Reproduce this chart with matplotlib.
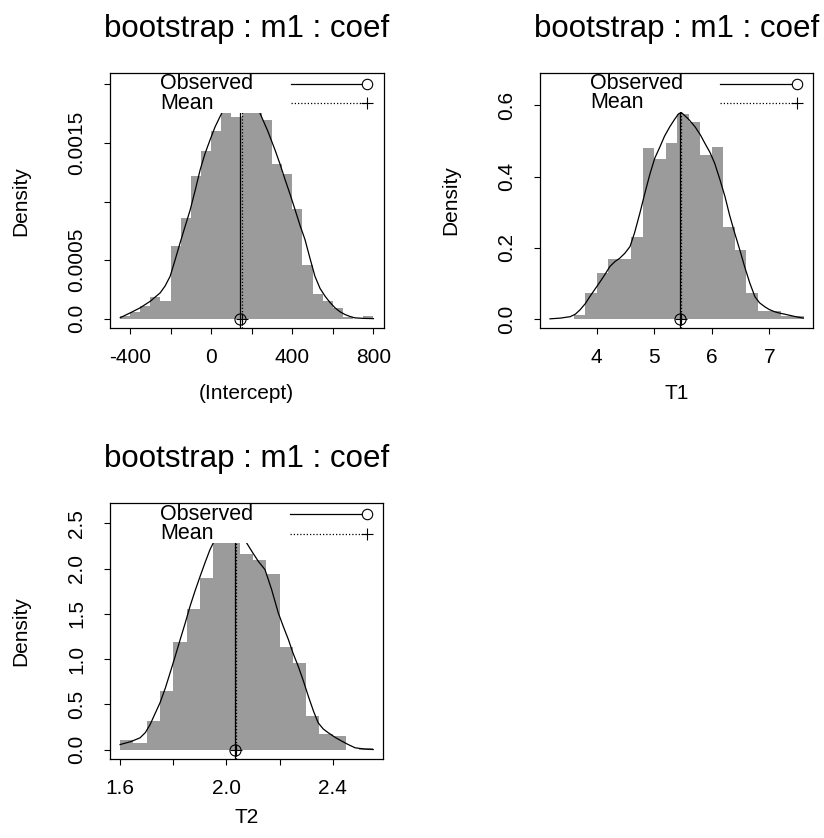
import matplotlib
matplotlib.use("Agg")
import matplotlib.pyplot as plt
from matplotlib.patches import Rectangle
import numpy as np

plt.rcParams['font.family'] = ['Liberation Sans', 'DejaVu Sans']

# ---------------- data ----------------
title = "bootstrap : m1 : coef"

# Panel 1: (Intercept)
p1_edges = [-450, -400, -350, -300, -250, -200, -150, -100, -50, 0, 50, 100, 150,
            200, 250, 300, 350, 400, 450, 500, 550, 600, 650, 700, 750, 800]
p1_heights = [0.00002, 0.000062, 0.000108, 0.000187, 0.000153, 0.000619, 0.000857,
              0.001215, 0.001436, 0.001604, 0.00188, 0.00172, 0.00201, 0.00197,
              0.0017, 0.001323, 0.001238, 0.00094, 0.000457, 0.000216, 0.000153,
              0.000094, 0.000017, 0.0, 0.000023]
p1_curve_x = [-448, -400, -350, -300, -251, -227, -202, -178, -153, -128, -103, -78,
              -54, -30, -5, 20, 44, 100, 150, 200, 241, 280, 315, 340, 365, 390, 414,
              438, 463, 487, 512, 537, 562, 586, 611, 636, 660, 685, 709, 750, 800]
p1_curve_y = [0.00001, 0.00005, 0.000094, 0.00015, 0.000222, 0.00028, 0.000363,
              0.0005, 0.000648, 0.00079, 0.000931, 0.0011, 0.001272, 0.00141,
              0.001528, 0.00164, 0.001726, 0.00192, 0.00198, 0.00192, 0.001755,
              0.0016, 0.001442, 0.00132, 0.001187, 0.00106, 0.000931, 0.0008,
              0.000676, 0.00052, 0.000363, 0.00026, 0.000193, 0.00014, 0.000094,
              0.00006, 0.000037, 0.00002, 0.0000085, 0.000004, 0.000002]
p1_observed = 144.0
p1_mean = 152.0
p1_xticks = [-400, -200, 0, 200, 400, 600, 800]
p1_xticklabels = ["-400", "", "0", "", "400", "", "800"]
p1_yticks = [0.0, 0.0005, 0.0010, 0.0015, 0.0020]
p1_yticklabels = ["0.0", "0.0005", "", "0.0015", ""]
p1_xlabel = "(Intercept)"

# Panel 2: T1
p2_edges = [3.6, 3.8, 4.0, 4.2, 4.4, 4.6, 4.8, 5.0, 5.2, 5.4, 5.6, 5.8, 6.0, 6.2,
            6.4, 6.6, 6.8, 7.0, 7.2, 7.4, 7.6]
p2_heights = [0.012, 0.073, 0.129, 0.168, 0.168, 0.230, 0.480, 0.450, 0.496, 0.576,
              0.554, 0.461, 0.484, 0.260, 0.194, 0.073, 0.023, 0.023, 0.009, 0.009]
p2_curve_x = [3.19, 3.37, 3.54, 3.63, 3.71, 3.80, 3.88, 3.97, 4.06, 4.15, 4.23, 4.32,
              4.40, 4.49, 4.58, 4.66, 4.75, 4.84, 4.93, 5.01, 5.10, 5.18, 5.27, 5.35,
              5.42, 5.47, 5.50, 5.60, 5.71, 5.80, 5.88, 5.97, 6.05, 6.14, 6.23, 6.31,
              6.40, 6.49, 6.57, 6.66, 6.75, 6.83, 6.92, 7.00, 7.09, 7.18, 7.27, 7.43,
              7.59]
p2_curve_y = [0.001, 0.003, 0.007, 0.014, 0.026, 0.043, 0.063, 0.084, 0.105, 0.127,
              0.148, 0.162, 0.171, 0.185, 0.204, 0.243, 0.297, 0.355, 0.410, 0.452,
              0.484, 0.514, 0.540, 0.560, 0.576, 0.580, 0.576, 0.561, 0.540, 0.518,
              0.494, 0.468, 0.438, 0.393, 0.344, 0.292, 0.241, 0.193, 0.148, 0.102,
              0.063, 0.046, 0.035, 0.027, 0.021, 0.017, 0.014, 0.008, 0.003]
p2_observed = 5.45
p2_mean = 5.46
p2_xticks = [4, 5, 6, 7]
p2_xticklabels = ["4", "5", "6", "7"]
p2_yticks = [0.0, 0.2, 0.4, 0.6]
p2_yticklabels = ["0.0", "0.2", "0.4", "0.6"]
p2_xlabel = "T1"

# Panel 3: T2
p3_edges = [1.60, 1.65, 1.70, 1.75, 1.80, 1.85, 1.90, 1.95, 2.00, 2.05, 2.10, 2.15,
            2.20, 2.25, 2.30, 2.35, 2.40, 2.45, 2.50, 2.55]
p3_heights = [0.106, 0.077, 0.316, 0.654, 1.191, 1.559, 1.897, 2.55, 2.62, 2.16,
              2.099, 1.941, 1.136, 0.960, 0.378, 0.169, 0.150, 0.0, 0.02]
p3_curve_x = [1.60, 1.64, 1.675, 1.695, 1.713, 1.73, 1.75, 1.77, 1.788, 1.807, 1.826,
              1.845, 1.863, 1.882, 1.901, 1.92, 1.938, 1.97, 2.0, 2.03, 2.076, 2.10,
              2.12, 2.145, 2.17, 2.195, 2.214, 2.233, 2.25, 2.27, 2.29, 2.308, 2.327,
              2.345, 2.364, 2.383, 2.41, 2.434, 2.46, 2.484, 2.52, 2.552]
p3_curve_y = [0.058, 0.09, 0.132, 0.19, 0.279, 0.39, 0.518, 0.68, 0.849, 1.03, 1.217,
              1.40, 1.584, 1.755, 1.915, 2.07, 2.209, 2.40, 2.52, 2.50, 2.283, 2.17,
              2.080, 1.989, 1.768, 1.511, 1.36, 1.217, 1.07, 0.922, 0.755, 0.591,
              0.43, 0.298, 0.23, 0.188, 0.135, 0.095, 0.055, 0.022, 0.008, 0.003]
p3_observed = 2.034
p3_mean = 2.036
p3_xticks = [1.6, 1.8, 2.0, 2.2, 2.4]
p3_xticklabels = ["1.6", "", "2.0", "", "2.4"]
p3_yticks = [0.0, 0.5, 1.0, 1.5, 2.0, 2.5]
p3_yticklabels = ["0.0", "0.5", "1.0", "1.5", "2.0", "2.5"]
p3_xlabel = "T2"

legend_labels = ["Observed", "Mean"]

# ---------------- figure ----------------
W, H = 824, 838
fig = plt.figure(figsize=(W / 100, H / 100), dpi=100)

BAR = "#9b9b9b"
FS = 15
DOT = (0, (1.0, 1.6))


def px_rect(x0, y0, x1, y1):
    return [x0 / W, 1 - y1 / H, (x1 - x0) / W, (y1 - y0) / H]


def panel(rect, edges, heights, cx, cy, obs, mean, xlim, ylim,
          xticks, xtl, yticks, ytl, xlabel, xlab_y, ylab_x):
    ax = fig.add_axes(px_rect(*rect))
    edges = np.asarray(edges, dtype=float)
    widths = np.diff(edges)
    ax.bar(edges[:-1], heights, width=widths, align="edge", color=BAR,
           linewidth=0, zorder=1)
    ax.plot(cx, cy, color="black", lw=0.9, zorder=2)
    ax.axvline(obs, color="black", lw=0.9, zorder=3)
    ax.axvline(mean, color="black", lw=0.9, ls=DOT, zorder=3)
    ax.plot([obs], [0], marker="o", ms=8, mfc="none", mec="black", mew=0.8,
            zorder=4, clip_on=False)
    ax.plot([mean], [0], marker="+", ms=9, mec="black", mew=0.8, zorder=4,
            clip_on=False)
    ax.set_xlim(*xlim)
    ax.set_ylim(*ylim)
    ax.set_xticks(xticks)
    ax.set_xticklabels(xtl)
    ax.set_yticks(yticks)
    ax.set_yticklabels(ytl, rotation=90, va="center")
    ax.tick_params(direction="out", length=4, width=0.8, labelsize=FS)
    ax.tick_params(axis="x", pad=10)
    ax.tick_params(axis="y", pad=13)
    for s in ax.spines.values():
        s.set_linewidth(0.9)
        s.set_zorder(10)
    ax.set_title(title, fontsize=22.5, pad=26)

    # legend: white box covering top of plot, text left, lines on right
    ax.add_patch(Rectangle((0.16, 0.845), 0.81, 0.155, transform=ax.transAxes,
                           facecolor="white", edgecolor="none", zorder=5))
    ys = [0.957, 0.882]
    for lab, yy in zip(legend_labels, ys):
        ax.text(0.183, yy, lab, transform=ax.transAxes, fontsize=15.5,
                va="center", ha="left", zorder=6)
    ax.plot([0.66, 0.94], [ys[0], ys[0]], transform=ax.transAxes, color="black",
            lw=0.9, zorder=6)
    ax.plot([0.94], [ys[0]], transform=ax.transAxes, marker="o", ms=7.5,
            mfc="white", mec="black", mew=0.8, zorder=7)
    ax.plot([0.66, 0.94], [ys[1], ys[1]], transform=ax.transAxes, color="black",
            lw=0.9, ls=DOT, zorder=6)
    ax.plot([0.94], [ys[1]], transform=ax.transAxes, marker="+", ms=9,
            mec="black", mew=0.8, zorder=7)

    cxp = (rect[0] + rect[2]) / 2
    cyp = (rect[1] + rect[3]) / 2
    fig.text(cxp / W, 1 - xlab_y / H, xlabel, fontsize=FS, ha="center", va="center")
    fig.text(ylab_x / W, 1 - cyp / H, "Density", fontsize=FS, ha="center",
             va="center", rotation=90)
    return ax


panel((110, 73, 383.5, 328.3), p1_edges, p1_heights, p1_curve_x, p1_curve_y,
      p1_observed, p1_mean, (-498.5, 850), (-0.0000807, 0.002098),
      p1_xticks, p1_xticklabels, p1_yticks, p1_yticklabels, p1_xlabel, 393.3, 21)

panel((540, 72.7, 813, 328.3), p2_edges, p2_heights, p2_curve_x, p2_curve_y,
      p2_observed, p2_mean, (3.016, 7.759), (-0.0256, 0.692),
      p2_xticks, p2_xticklabels, p2_yticks, p2_yticklabels, p2_xlabel, 393.3, 451)

panel((110, 503.3, 383.3, 759.3), p3_edges, p3_heights, p3_curve_x, p3_curve_y,
      p3_observed, p3_mean, (1.562, 2.590), (-0.105, 2.721),
      p3_xticks, p3_xticklabels, p3_yticks, p3_yticklabels, p3_xlabel, 817.0, 21)

fig.savefig("out.png", dpi=100)
